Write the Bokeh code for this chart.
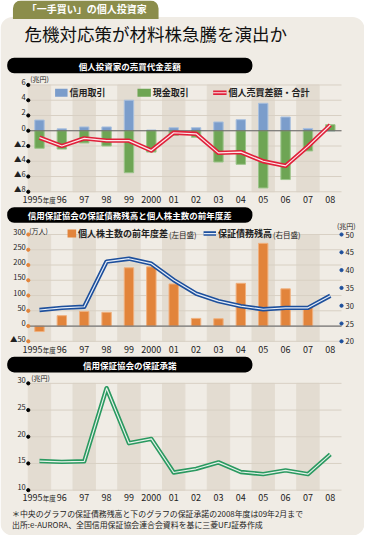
from bokeh.plotting import figure
from bokeh.models import Range1d, Label, BoxAnnotation, ColumnDataSource
from bokeh.core.properties import value
from bokeh.embed import file_html
from bokeh.resources import INLINE

# ---------------- data ----------------
years = ["1995年度", "96", "97", "98", "99", "2000", "01", "02", "03", "04", "05", "06", "07", "08"]
margin_trade = [1.4, 0.25, 0.5, 0.5, 4.0, 0.1, 0.4, 0.4, 1.15, 1.45, 3.6, 1.8, 0.3, 0.0]
cash_trade = [-2.3, -2.4, -1.6, -2.0, -5.5, -2.8, -0.6, -0.85, -4.1, -4.4, -7.5, -6.4, -2.65, 0.8]
net_total = [-0.9, -2.0, -1.0, -1.3, -1.3, -2.6, -0.26, -0.4, -2.9, -2.8, -4.0, -4.6, -2.05, 0.75]
shareholder_diff = [-18, 34, 48, 45, 191, 194, 138, 25, 24, 140, 271, 122, 62, float("nan")]
guarantee_balance = [28.8, 29.4, 29.7, 42.4, 43.2, 41.8, 37.2, 33.4, 31.3, 29.9, 29.0, 29.4, 29.4, 32.8]
guarantee_approval = [15.45, 15.3, 15.4, 29.1, 18.8, 19.6, 13.3, 14.0, 15.2, 13.4, 13.0, 13.7, 13.0, 16.7]

ticks1 = [-8, -6, -4, -2, 0, 2, 4, 6]
ticks2_left = [-50, 0, 50, 100, 150, 200, 250, 300]
ticks2_right = [20, 25, 30, 35, 40, 45, 50]
ticks3 = [10, 15, 20, 25, 30]

# ---------------- layout / style ----------------
W, H = 364, 535
SX, SY = W / 380, H / 551


def X(v):
    return v * SX


def Y(v):
    return v * SY


BG = "#f0ece5"
BAND = "#e3dcd1"
GRID = "#d8d0c4"
OLIVE = "#8b8d4b"
TXT = "#222222"
FONT = "Noto Sans CJK JP"
BLUE_BAR, GREEN_BAR, ORANGE_BAR = "#7b9dcb", "#6ea554", "#e2843b"
RED, NAVY, GREEN_LINE = "#e0203a", "#1d4f9c", "#2a9960"

n = len(years)
FL, FR = X(29), X(356)          # frame left / right in pixels
kx = n / (FR - FL)

p = figure(width=W, height=H, x_range=Range1d(0, W), y_range=Range1d(H, 0),
           output_backend="svg", toolbar_location=None, title=None,
           min_border_left=0, min_border_right=0, min_border_top=0, min_border_bottom=0,
           x_axis_location=None, y_axis_location=None,
           background_fill_color="white", border_fill_color="white", outline_line_color=None)
p.grid.visible = False


def yrange(v_top, p_top, v_bot, p_bot):
    k = (v_top - v_bot) / (p_bot - p_top)
    return Range1d(v_bot - (H - p_bot) * k, v_top + p_top * k)


p.extra_x_ranges = {"cat": Range1d(-FL * kx, n + (W - FR) * kx)}
p.extra_y_ranges = {
    "c1": yrange(ticks1[-1], Y(87), ticks1[0], Y(197)),
    "c2l": yrange(ticks2_left[-1], Y(241), ticks2_left[0], Y(351)),
    "c2r": yrange(ticks2_right[-1], Y(241), ticks2_right[0], Y(351)),
    "c3": yrange(ticks3[-1], Y(394.3), ticks3[0], Y(504.3)),
}

cx = [i + 0.5 for i in range(n)]


def tri(v):
    return "▲%d" % abs(v) if v < 0 else "%d" % v


def label(x, y, text, size, bold=False, color=TXT, align="left"):
    p.add_layout(Label(x=x, y=y, text=text, text_font=FONT, text_font_size="%spx" % size,
                       text_font_style="bold" if bold else "normal", text_color=color,
                       text_align=align, text_baseline="middle"))


def box(l, r, t, b, color, radius=0, level="annotation"):
    p.add_layout(BoxAnnotation(left=l, right=r, top=t, bottom=b, fill_color=color, fill_alpha=1,
                               line_color=None, border_radius=radius, level=level))


def frame_decor(yname, ticks):
    p.vbar(x=cx[::2], top=ticks[-1], bottom=ticks[0], width=1, color=BAND,
           x_range_name="cat", y_range_name=yname)
    p.segment(x0=0, x1=n, y0=ticks, y1=ticks, line_color=GRID, line_width=1,
              x_range_name="cat", y_range_name=yname)


def left_ticks(yname, ticks, dot_color):
    p.scatter(x=0, y=ticks, size=3.2, color=dot_color, x_range_name="cat", y_range_name=yname)
    p.text(x=0, y=ticks, text=[tri(t) for t in ticks], x_offset=-2.5, y_offset=-3,
           text_align="right", text_baseline="middle", text_font=value(FONT),
           text_font_size="7.5px", text_color=TXT, x_range_name="cat", y_range_name=yname)


def right_ticks(yname, ticks, dot_color):
    p.scatter(x=n, y=ticks, size=3.2, color=dot_color, x_range_name="cat", y_range_name=yname)
    p.text(x=n, y=ticks, text=[tri(t) for t in ticks], x_offset=4,
           text_align="left", text_baseline="middle", text_font=value(FONT),
           text_font_size="7.5px", text_color=TXT, x_range_name="cat", y_range_name=yname)


SUFFIX = "年度"


def x_labels(ypix):
    src = ColumnDataSource(dict(
        x=cx, y=[ypix] * n,
        t=[yr.replace(SUFFIX, "") for yr in years],
        off=[-7 if SUFFIX in yr else 0 for yr in years]))
    p.text(x="x", y="y", text="t", x_offset="off", source=src, x_range_name="cat",
           text_align="center", text_baseline="middle", text_font=value(FONT),
           text_font_size="9px", text_color=TXT)
    sx = [cx[i] for i, yr in enumerate(years) if SUFFIX in yr]
    p.text(x=sx, y=[ypix + 0.5] * len(sx), text=[SUFFIX] * len(sx), x_offset=3.2,
           x_range_name="cat", text_align="left", text_baseline="middle",
           text_font=value(FONT), text_font_size="6.5px", text_color=TXT)


def double_line(yvals, yname, outer, inner):
    p.line(cx, yvals, line_color=outer, line_width=4.4, line_join="round",
           x_range_name="cat", y_range_name=yname)
    p.line(cx, yvals, line_color=inner, line_width=1.2, line_join="round",
           x_range_name="cat", y_range_name=yname)


def legend_line(x0, x1, y, outer, inner):
    p.line([x0, x1], [y, y], line_color=outer, line_width=4.4)
    p.line([x0, x1], [y, y], line_color=inner, line_width=1.2)


def pill(top, bottom, text):
    box(X(7), X(263), Y(top), Y(bottom), "black", radius=7)
    label(X(135), Y((top + bottom) / 2), text, 8.5, bold=True, color="white", align="center")


# ---------------- header ----------------
box(0, W, Y(17), H, BG, radius=12, level="image")
box(X(13), X(165), 0, Y(19), OLIVE,
    radius=dict(top_left=8, top_right=8, bottom_right=0, bottom_left=0), level="image")
label(X(90), Y(8.5), "「一手買い」の個人投資家", 10, bold=True, color="white", align="center")
label(X(25), Y(33.5), "危機対応策が材料株急騰を演出か", 17.5, color="#111111")

# ---------------- chart 1 ----------------
frame_decor("c1", ticks1)
src1 = ColumnDataSource(dict(x=cx, margin=margin_trade, cash=cash_trade))
p.vbar(x="x", top="margin", bottom=0, width=0.42, source=src1, fill_color=BLUE_BAR,
       line_color="#a9c0de", line_width=1, x_range_name="cat", y_range_name="c1")
p.vbar(x="x", top="cash", bottom=0, width=0.42, source=src1, fill_color=GREEN_BAR,
       line_color="#9cc58a", line_width=1, x_range_name="cat", y_range_name="c1")
p.segment(x0=0, x1=n, y0=0, y1=0, line_color="#666666", line_width=1.2,
          x_range_name="cat", y_range_name="c1")
double_line(net_total, "c1", RED, "#fde6ea")
left_ticks("c1", ticks1, "black")
x_labels(Y(205))
pill(59, 75, "個人投資家の売買代金差額")
label(X(31), Y(81), "(兆円)", 7)
ly = Y(95)
box(X(57), X(70), ly - 4, ly + 4, BLUE_BAR)
label(X(72), ly, "信用取引", 9, bold=True)
box(X(143), X(157), ly - 4, ly + 4, GREEN_BAR)
label(X(159), ly, "現金取引", 9, bold=True)
legend_line(X(222), X(236), ly, RED, "#fde6ea")
label(X(238), ly, "個人売買差額・合計", 9, bold=True)

# ---------------- chart 2 ----------------
frame_decor("c2l", ticks2_left)
src2 = ColumnDataSource(dict(x=cx, diff=shareholder_diff))
p.vbar(x="x", top="diff", bottom=0, width=0.42, source=src2, fill_color=ORANGE_BAR,
       line_color="#f0b07e", line_width=1, x_range_name="cat", y_range_name="c2l")
p.segment(x0=0, x1=n, y0=0, y1=0, line_color="#777777", line_width=1.2,
          x_range_name="cat", y_range_name="c2l")
double_line(guarantee_balance, "c2r", NAVY, "#e6eef9")
left_ticks("c2l", ticks2_left, ORANGE_BAR)
right_ticks("c2r", ticks2_right, NAVY)
x_labels(Y(359))
pill(213, 229, "信用保証協会の保証債務残高と個人株主数の前年度差")
label(X(30), Y(237), "(万人)", 7)
label(X(361), Y(232), "(兆円)", 7, align="center")
ly = Y(240)
box(X(70), X(79), ly - 4, ly + 4, ORANGE_BAR)
label(X(81), ly, "個人株主数の前年度差", 9, bold=True)
label(X(81) + 91, ly + 0.5, "(左目盛)", 7.5)
legend_line(X(212), X(225), ly, NAVY, "#e6eef9")
label(X(227), ly, "保証債務残高", 9, bold=True)
label(X(227) + 55, ly + 0.5, "(右目盛)", 7.5)

# ---------------- chart 3 ----------------
frame_decor("c3", ticks3)
double_line(guarantee_approval, "c3", GREEN_LINE, "#e6f2ea")
left_ticks("c3", ticks3, "black")
x_labels(Y(512))
pill(367, 383, "信用保証協会の保証承諾")
label(X(32), Y(389), "(兆円)", 7)
label(X(12), Y(528), "＊中央のグラフの保証債務残高と下のグラフの保証承諾の2008年度は09年2月まで", 7.9)
label(X(12), Y(540), "出所:e-AURORA、全国信用保証協会連合会資料を基に三菱UFJ証券作成", 7.9)

open("out.html", "w").write(file_html(p, INLINE))
